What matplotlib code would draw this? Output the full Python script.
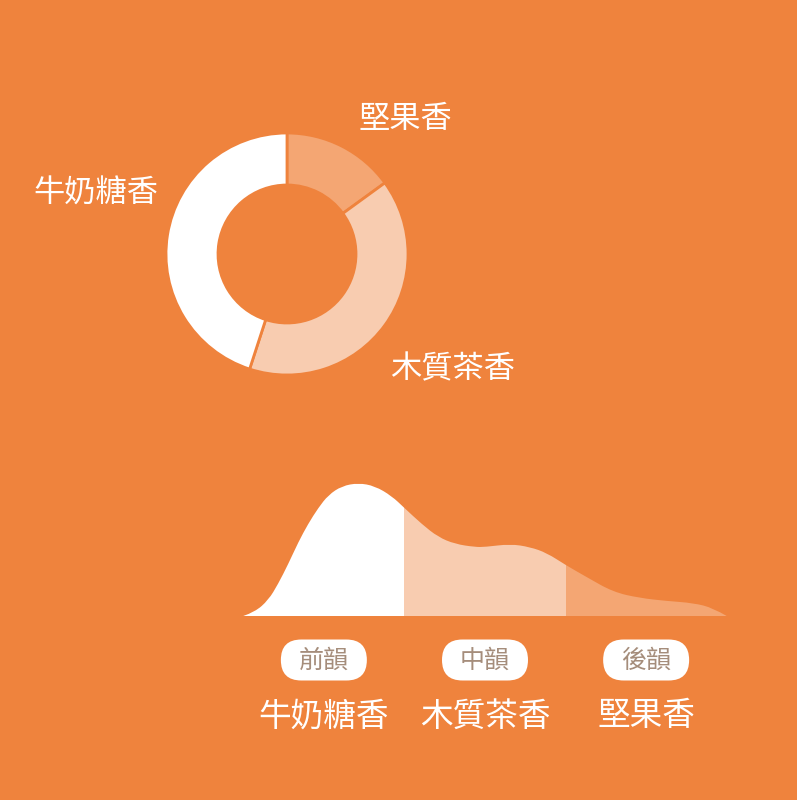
import matplotlib
matplotlib.use("Agg")
import matplotlib.pyplot as plt
from matplotlib.patches import FancyBboxPatch, PathPatch, Rectangle
from matplotlib.path import Path
import numpy as np

plt.rcParams['font.family'] = ['Noto Sans CJK TC', 'DejaVu Sans']

# ---- data ----
donut_labels = ["堅果香", "木質茶香", "牛奶糖香"]
donut_values = [15, 40, 45]

stage_labels = ["前韻", "中韻", "後韻"]
stage_notes = ["牛奶糖香", "木質茶香", "堅果香"]
stage_bounds = [0, 33.33, 66.67, 100]

curve_t = [0, 2.4, 5.2, 7.2, 9.3, 11.4, 13.4, 15.5, 17.6, 20.4, 23.8, 27.2, 30.7,
           33.33, 36.9, 40.3, 43.8, 47.9, 50.0, 55.2, 59.3, 62.8, 66.67, 71.0,
           76.5, 82.0, 87.6, 93.1, 97.2, 100]
curve_h = [0, 4, 16, 32, 52, 74, 92, 108, 121, 130, 133, 130, 120,
           108, 92, 79, 72, 69, 69, 72, 69, 63, 51, 39,
           24, 18, 15, 13, 8, 0]

# ---- style ----
BG = "#EF833D"
C_NUT = "#F4A673"
C_WOOD = "#F8CCB0"
C_MILK = "#FFFFFF"
PILL_TXT = "#A58D7B"
FW = "light"

W, H = 797, 800
fig = plt.figure(figsize=(W / 100, H / 100), dpi=100, facecolor=BG)

# overlay axes in pixel coordinates for labels
ov = fig.add_axes([0, 0, 1, 1], zorder=3)
ov.set_xlim(0, W)
ov.set_ylim(H, 0)
ov.axis("off")
ov.patch.set_alpha(0)

# ---- donut ----
cx, cy, R = 287, 254, 121
axd = fig.add_axes([(cx - R) / W, (H - cy - R) / H, 2 * R / W, 2 * R / H])
axd.pie(donut_values, colors=[C_NUT, C_WOOD, C_MILK], startangle=90,
        counterclock=False, radius=1,
        wedgeprops=dict(width=52 / 121, edgecolor=BG, linewidth=2))
axd.set_xlim(-1, 1)
axd.set_ylim(-1, 1)
axd.set_aspect("equal")
axd.axis("off")

label_pos = {"堅果香": (405, 119), "木質茶香": (453, 369), "牛奶糖香": (96, 194)}
for lab in donut_labels:
    x, y = label_pos[lab]
    ov.text(x, y, lab, color="white", fontsize=22.5, ha="center", va="center",
            fontweight=FW)

# ---- flavour curve (smooth quadratic path through the read points) ----
x0, x1, base = 243.3, 726.7, 616
axc = fig.add_axes([x0 / W, (H - base) / H, (x1 - x0) / W, 140 / H])
axc.set_xlim(0, 100)
axc.set_ylim(0, 140)
axc.axis("off")
pts = list(zip(curve_t, curve_h))
verts = [(curve_t[0], 0), pts[0]]
codes = [Path.MOVETO, Path.LINETO]
for i in range(1, len(pts) - 1):
    mid = ((pts[i][0] + pts[i + 1][0]) / 2, (pts[i][1] + pts[i + 1][1]) / 2)
    if i == len(pts) - 2:
        mid = pts[-1]
    verts += [pts[i], mid]
    codes += [Path.CURVE3, Path.CURVE3]
verts.append((curve_t[0], 0))
codes.append(Path.CLOSEPOLY)
shape = Path(verts, codes)

seg_colors = [C_MILK, C_WOOD, C_NUT]
for i in range(3):
    patch = PathPatch(shape, fc=seg_colors[i], ec="none", lw=0)
    axc.add_patch(patch)
    clip = Rectangle((stage_bounds[i], -5), stage_bounds[i + 1] - stage_bounds[i], 200,
                     transform=axc.transData)
    patch.set_clip_path(clip)

fig.canvas.draw()
pill_w, pill_h = 86, 41
for i in range(3):
    tc = (stage_bounds[i] + stage_bounds[i + 1]) / 2
    disp = axc.transData.transform((tc, 0))
    px, _ = ov.transData.inverted().transform(disp)
    pill = FancyBboxPatch((px - pill_w / 2, 639.5), pill_w, pill_h,
                          boxstyle=f"round,pad=0,rounding_size={pill_h/2}",
                          fc="white", ec="none")
    ov.add_patch(pill)
    ov.text(px, 661, stage_labels[i], color=PILL_TXT, fontsize=18,
            ha="center", va="center", fontweight=FW)
    ov.text(px, 716.5, stage_notes[i], color="white", fontsize=23.5,
            ha="center", va="center", fontweight=FW)

fig.savefig("out.png", dpi=100, facecolor=BG)
